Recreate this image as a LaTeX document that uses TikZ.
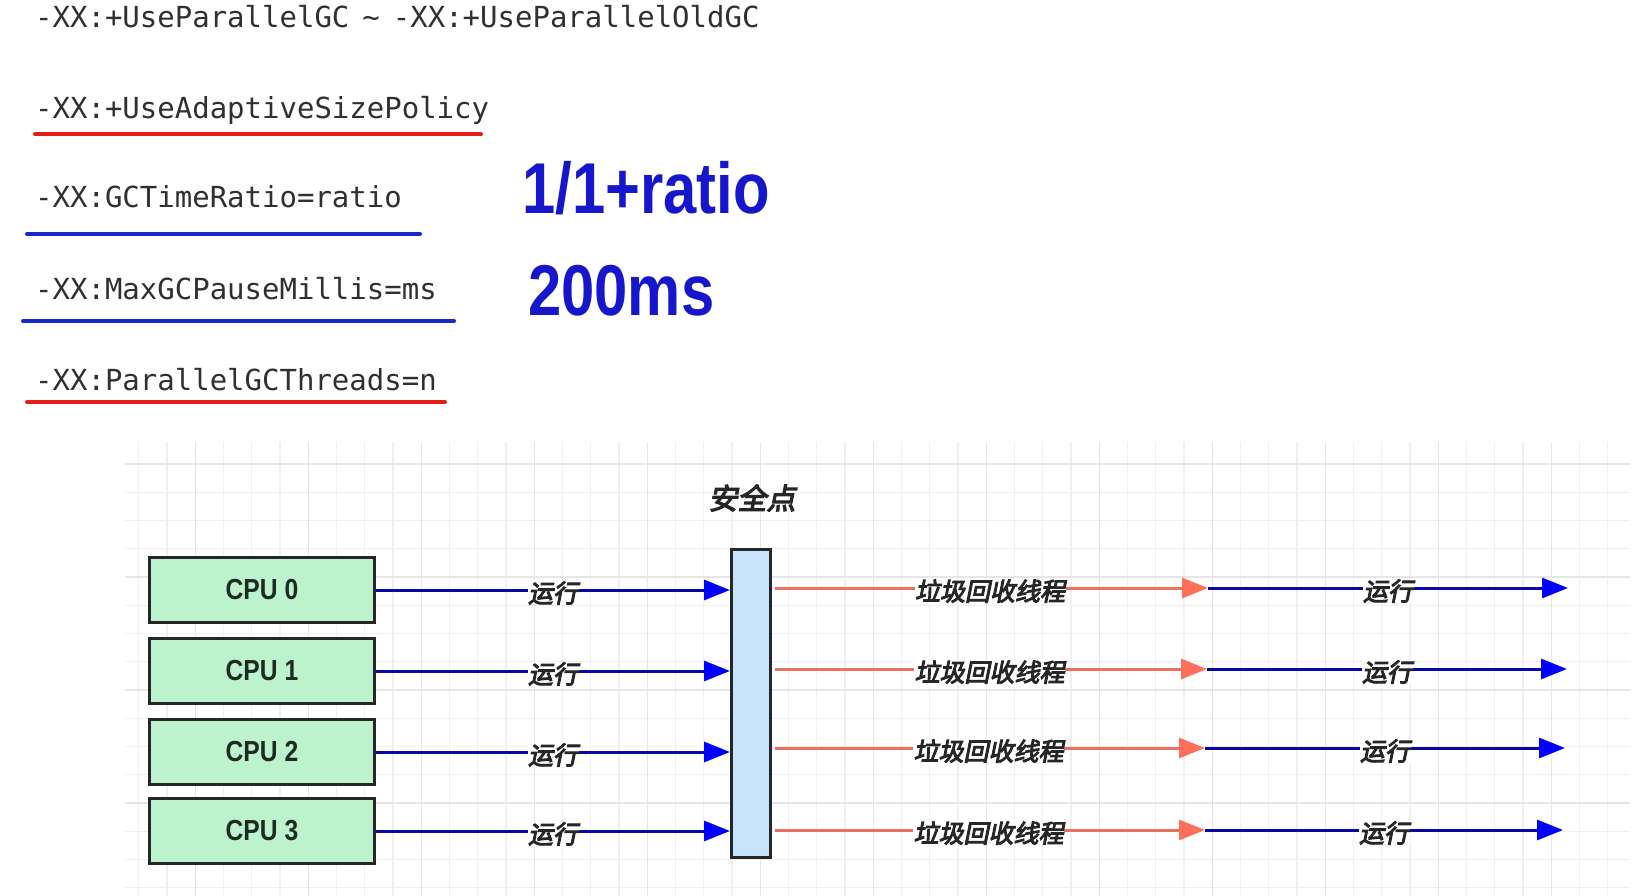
\documentclass[tikz,border=0pt]{standalone}
\usepackage{fontspec}
\usepackage{graphicx}
\setmainfont{Liberation Sans}
\setmonofont{DejaVu Sans Mono}
\newfontfamily\cjkfont[FakeSlant=0.2,FakeBold=4]{Noto Sans CJK SC}
\usetikzlibrary{arrows.meta}
\definecolor{cpugreen}{RGB}{188,243,204}
\definecolor{barblue}{RGB}{200,228,250}
\definecolor{runblue}{RGB}{8,8,170}
\definecolor{headblue}{RGB}{0,0,255}
\definecolor{gcred}{RGB}{236,112,96}
\definecolor{headred}{RGB}{255,112,92}
\definecolor{ulred}{RGB}{228,30,24}
\definecolor{ulblue}{RGB}{24,40,200}
\definecolor{bigblue}{RGB}{22,22,205}
\definecolor{monogray}{RGB}{48,48,48}
\definecolor{gridminor}{RGB}{240,240,240}
\definecolor{gridmajor}{RGB}{230,230,230}

\begin{document}
\begin{tikzpicture}[x=1pt,y=1pt,
  monotext/.style={anchor=base west,inner sep=0pt,font=\ttfamily\fontsize{29}{29}\selectfont,text=monogray},
  bigtext/.style={anchor=base west,inner sep=0pt,font=\bfseries\fontsize{72}{72}\selectfont,text=bigblue},
  underline/.style={line width=4pt,line cap=round},
  cpubox/.style={draw=black!85,line width=3pt,fill=cpugreen,minimum width=225pt,minimum height=65pt,
    font=\bfseries\fontsize{29}{29}\selectfont,text={rgb,255:red,28;green,44;blue,34}},
  runarrow/.style={line width=3pt,runblue,-{Triangle[length=26pt,width=20pt,color=headblue]}},
  gcarrow/.style={line width=3pt,gcred,-{Triangle[length=26pt,width=20pt,color=headred]}},
  arrowlabel/.style={font=\cjkfont\fontsize{25}{25}\selectfont,text=black!85,fill=white,inner sep=0.5pt,yshift=-3pt}]
\useasboundingbox (0,0) rectangle (1647,-896);

% grid behind the diagram
\begin{scope}
\clip (125,-442) rectangle (1630,-896);
\draw[gridminor,line width=1.3pt,shift={(308.3,-464)}] (-200,40) grid[step=28.25] (1340,-440);
\draw[gridmajor,line width=1.5pt,shift={(308.3,-464)}] (-200,40) grid[step=113] (1340,-440);
\end{scope}

% jvm options
\node[monotext] (opt1) at (35,-28) {-XX:+UseParallelGC\hspace{13pt}\textasciitilde\hspace{13pt}-XX:+UseParallelOldGC};
\node[monotext] (opt2) at (35,-119) {-XX:+UseAdaptiveSizePolicy};
\node[monotext] (opt3) at (35,-208) {-XX:GCTimeRatio=ratio};
\node[monotext] (opt4) at (35,-299) {-XX:MaxGCPauseMillis=ms};
\node[monotext] (opt5) at (35,-390) {-XX:ParallelGCThreads=n};
\draw[underline,ulred] (35,-134.5) -- (481,-134.5);
\draw[underline,ulblue] (27,-234) -- (420,-234);
\draw[underline,ulblue] (23,-321) -- (454,-321);
\draw[underline,ulred] (27,-402) -- (445,-402);
\node[bigtext] (ratio) at (522,-214) {\scalebox{0.83}[1]{1/1+ratio}};
\node[bigtext] (pause) at (528,-316) {\scalebox{0.83}[1]{200ms}};

% cpus and safe point
\node[cpubox] (cpu0) at (262,-590) {\scalebox{0.85}[1]{CPU 0}};
\node[cpubox] (cpu1) at (262,-671) {\scalebox{0.85}[1]{CPU 1}};
\node[cpubox] (cpu2) at (262,-752) {\scalebox{0.85}[1]{CPU 2}};
\node[cpubox] (cpu3) at (262,-831) {\scalebox{0.85}[1]{CPU 3}};
\node[draw=black!85,line width=3pt,fill=barblue,minimum width=39pt,minimum height=308pt] (bar) at (751,-703.5) {};
\node[font=\cjkfont\fontsize{29}{29}\selectfont,text=black!85] (safe) at (752,-498) {安全点};

\coordinate (gc0) at (1208,-588); \coordinate (end0) at (1568,-588);
\coordinate (gc1) at (1207,-669); \coordinate (end1) at (1567,-669);
\coordinate (gc2) at (1205,-748); \coordinate (end2) at (1565,-748);
\coordinate (gc3) at (1205,-830); \coordinate (end3) at (1563,-830);

\draw[runarrow] (cpu0) -- node[arrowlabel] {运行} (bar.west |- cpu0);
\draw[runarrow] (cpu1) -- node[arrowlabel] {运行} (bar.west |- cpu1);
\draw[runarrow] (cpu2) -- node[arrowlabel] {运行} (bar.west |- cpu2);
\draw[runarrow] (cpu3) -- node[arrowlabel] {运行} (bar.west |- cpu3);

\draw[gcarrow,shorten <=3pt] (bar.east |- gc0) -- node[arrowlabel] {垃圾回收线程} (gc0);
\draw[gcarrow,shorten <=3pt] (bar.east |- gc1) -- node[arrowlabel] {垃圾回收线程} (gc1);
\draw[gcarrow,shorten <=3pt] (bar.east |- gc2) -- node[arrowlabel] {垃圾回收线程} (gc2);
\draw[gcarrow,shorten <=3pt] (bar.east |- gc3) -- node[arrowlabel] {垃圾回收线程} (gc3);

\draw[runarrow] (gc0) -- node[arrowlabel] {运行} (end0);
\draw[runarrow] (gc1) -- node[arrowlabel] {运行} (end1);
\draw[runarrow] (gc2) -- node[arrowlabel] {运行} (end2);
\draw[runarrow] (gc3) -- node[arrowlabel] {运行} (end3);
\end{tikzpicture}
\end{document}
